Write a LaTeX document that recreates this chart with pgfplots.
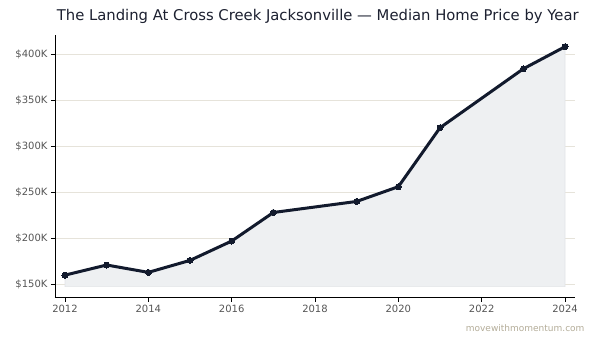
\documentclass[border=0pt]{standalone}
\usepackage{pgfplots}
\pgfplotsset{compat=1.18}
\usepackage{fontspec}
\setmainfont{DejaVu Sans}
\definecolor{linecol}{HTML}{121A2D}
\definecolor{fillcol}{HTML}{EEF0F2}
\definecolor{filledge}{HTML}{E2E4E7}
\definecolor{gridcol}{HTML}{E6E3DA}
\definecolor{tickcol}{HTML}{555555}
\definecolor{titlecol}{HTML}{1C2030}
\definecolor{markcol}{HTML}{B3AC98}

\pgfplotstableread{
year price
2012 160
2013 171
2014 163
2015 176
2016 197
2017 228
2019 240
2020 256
2021 320
2023 384
2024 408
}\prices

% shaded area under the price line, closed along a 147.5K baseline
\pgfplotstableread{
year price
2012 147.5
2012 160
2013 171
2014 163
2015 176
2016 197
2017 228
2019 240
2020 256
2021 320
2023 384
2024 408
2024 147.5
}\area

\begin{document}
\begin{tikzpicture}
\useasboundingbox (-55pt,-45.3pt) rectangle (544pt,297.7pt);
\begin{axis}[
  at={(0pt,0pt)}, anchor=south west,
  scale only axis,
  width=520pt, height=262.7pt,
  xmin=2011.76, xmax=2024.24,
  ymin=135.5, ymax=420.7,
  axis lines*=left,
  axis line style={black, line width=0.9pt},
  xtick={2012,2014,...,2024},
  ytick={150,200,...,400},
  xticklabel style={/pgf/number format/1000 sep={}},
  yticklabel={\$\pgfmathprintnumber{\tick}K},
  ticklabel style={font=\fontsize{10}{12}\selectfont, text=tickcol},
  /pgf/number format/assume math mode=true,
  tick style={black, line width=0.7pt},
  major tick length=4pt,
  tick align=outside,
  ymajorgrids,
  grid style={gridcol, line width=0.8pt},
]
\addplot[fill=fillcol, draw=filledge, line width=0.6pt] table[x=year,y=price] {\area} -- cycle;
\addplot[linecol, line width=3pt, line join=round, mark=*, mark size=3pt,
  mark options={fill=linecol, draw=linecol, line width=0pt}]
  table[x=year,y=price] {\prices};
\end{axis}
\node[anchor=base west, inner sep=0pt, text=titlecol, font=\fontsize{14.8}{17}\selectfont] at (1.7pt,276.7pt)
  {The Landing At Cross Creek Jacksonville — Median Home Price by Year};
\node[anchor=base east, text=markcol, font=\fontsize{9}{11}\selectfont] at (533pt,-33.5pt)
  {movewithmomentum.com};
\end{tikzpicture}
\end{document}
